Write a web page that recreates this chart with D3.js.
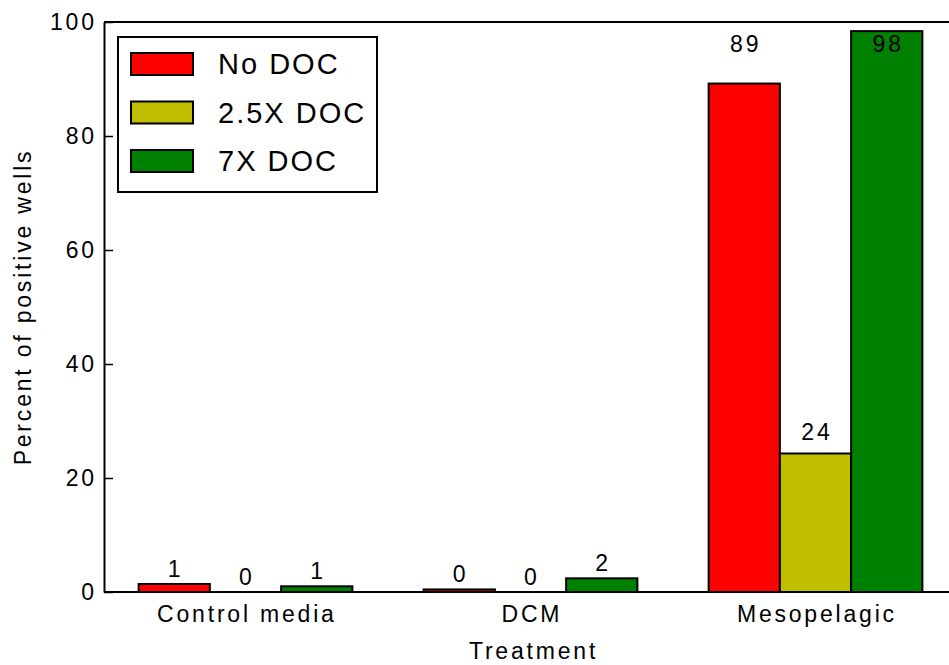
<!DOCTYPE html>
<html>
<head>
<meta charset="utf-8">
<script src="https://cdn.jsdelivr.net/npm/d3@7/dist/d3.min.js"></script>
<style>
  html, body { margin: 0; padding: 0; background: #fff; }
  svg { display: block; }
  text { font-family: "Liberation Sans", Arial, sans-serif; fill: #000; }
</style>
</head>
<body>
<svg id="chart" width="949" height="665"></svg>
<script>
// Treatment groups and DOC amendment series
const categories = ["Control media", "DCM", "Mesopelagic"];
const seriesNames = ["No DOC", "2.5X DOC", "7X DOC"];
const seriesColors = ["#ff0000", "#bfbf00", "#008000"];

// Percent of positive wells, one array per series (order follows categories)
const noDOC = [1.4, 0.45, 89.2];
const doc25X = [0, 0, 24.3];
const doc7X = [1.0, 2.4, 98.4];

const yTicks = [0, 20, 40, 60, 80, 100];

const seriesValues = [noDOC, doc25X, doc7X];

const svg = d3.select("#chart");
const W = 949, H = 665;
const plot = { left: 104, right: 959, top: 22, bottom: 592 };
const LS = 2.8; // letter spacing used for the chart text

const x0 = d3.scaleBand().domain(categories)
  .range([plot.left - 1, plot.right - 1])
  .paddingInner(0.25).paddingOuter(0.125);
const x1 = d3.scaleBand().domain(seriesNames).range([0, x0.bandwidth()]).padding(0);
const y = d3.scaleLinear().domain([0, 100]).range([plot.bottom, plot.top]);

// bars
const rows = [];
categories.forEach((c, ci) => {
  seriesNames.forEach((s, si) => {
    rows.push({ cat: c, series: s, si, value: seriesValues[si][ci] });
  });
});

const bars = svg.append("g");
bars.selectAll("rect").data(rows).join("rect")
  .attr("x", d => x0(d.cat) + x1(d.series))
  .attr("y", d => y(d.value))
  .attr("width", x1.bandwidth())
  .attr("height", d => y(0) - y(d.value))
  .attr("fill", d => seriesColors[d.si])
  .attr("stroke", "#000")
  .attr("stroke-width", 2);

// value labels; the tallest bars share one row under the top frame
const fmt = d3.format(".0f");
svg.append("g").selectAll("text").data(rows).join("text")
  .attr("x", d => x0(d.cat) + x1(d.series) + x1.bandwidth() / 2)
  .attr("dx", LS / 2)
  .attr("y", d => d.value > 80 ? plot.top + 30 : y(d.value) - (d.value > 10 ? 13 : 7))
  .attr("text-anchor", "middle")
  .attr("font-size", 23)
  .attr("letter-spacing", LS)
  .text(d => fmt(d.value));

// frame: top edge and baseline run past the right side of the window
svg.append("line")
  .attr("x1", plot.left).attr("x2", W + 20)
  .attr("y1", plot.top).attr("y2", plot.top)
  .attr("stroke", "#000").attr("stroke-width", 2);
svg.append("line")
  .attr("x1", plot.left).attr("x2", W + 20)
  .attr("y1", plot.bottom).attr("y2", plot.bottom)
  .attr("stroke", "#000").attr("stroke-width", 2);

// y axis with inward ticks
const yAxis = d3.axisLeft(y).tickValues(yTicks).tickSizeInner(-9).tickSizeOuter(0).tickPadding(10);
const yg = svg.append("g").attr("transform", `translate(${plot.left},0)`).call(yAxis);
yg.select(".domain").attr("stroke", "#000").attr("stroke-width", 2);
yg.selectAll(".tick line").attr("stroke", "#000").attr("stroke-width", 1.5);
yg.selectAll(".tick text")
  .attr("font-family", "'Liberation Sans', Arial, sans-serif")
  .attr("font-size", 23)
  .attr("letter-spacing", LS)
  .attr("dx", LS)
  .attr("fill", "#000");

// category labels
svg.append("g").selectAll("text").data(categories).join("text")
  .attr("x", d => x0(d) + x0.bandwidth() / 2)
  .attr("dx", LS / 2)
  .attr("y", 622)
  .attr("text-anchor", "middle")
  .attr("font-size", 23)
  .attr("letter-spacing", LS)
  .text(d => d);

// axis titles
svg.append("text")
  .attr("x", (plot.left + plot.right) / 2 + 2)
  .attr("y", 659)
  .attr("text-anchor", "middle")
  .attr("font-size", 23)
  .attr("letter-spacing", LS)
  .text("Treatment");

svg.append("text")
  .attr("transform", `translate(31,${(plot.top + plot.bottom) / 2}) rotate(-90)`)
  .attr("text-anchor", "middle")
  .attr("font-size", 23)
  .attr("letter-spacing", LS)
  .text("Percent of positive wells");

// legend
const legend = svg.append("g");
legend.append("rect")
  .attr("x", 118).attr("y", 37).attr("width", 259).attr("height", 155)
  .attr("fill", "#fff").attr("stroke", "#000").attr("stroke-width", 2);
const item = legend.selectAll("g.item").data(seriesNames).join("g")
  .attr("class", "item")
  .attr("transform", (d, i) => `translate(0,${i * 48.5})`);
item.append("rect")
  .attr("x", 131).attr("y", 53).attr("width", 62).attr("height", 22)
  .attr("fill", (d, i) => seriesColors[i])
  .attr("stroke", "#000").attr("stroke-width", 2);
item.append("text")
  .attr("x", 218).attr("y", 74)
  .attr("font-size", 29)
  .attr("letter-spacing", 2)
  .text(d => d);
</script>
</body>
</html>
